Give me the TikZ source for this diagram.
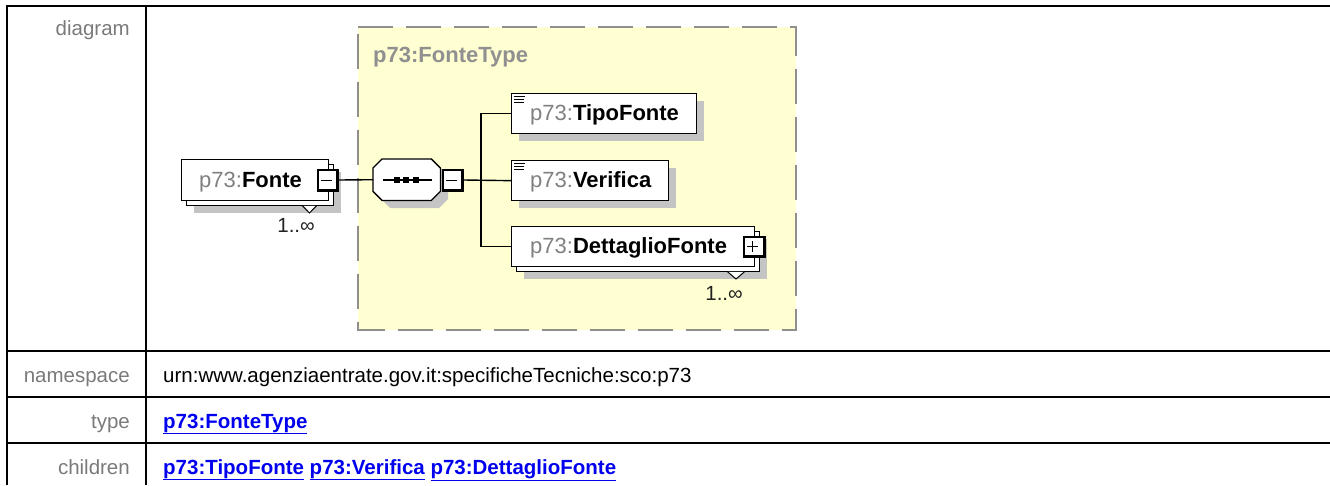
\documentclass[tikz,border=0pt]{standalone}
\usepackage{fontspec}
\setmainfont{Liberation Sans}
\usetikzlibrary{calc}
\definecolor{ybg}{HTML}{FFFFD2}
\definecolor{dashgray}{HTML}{8F8F8F}
\definecolor{shgray}{HTML}{C4C4C4}
\definecolor{lblgray}{HTML}{7A7A7A}
\definecolor{nsgray}{HTML}{808080}
\definecolor{typegray}{HTML}{909090}
\definecolor{linkblue}{HTML}{0000EE}
\definecolor{multc}{HTML}{222222}
\newcommand{\tabfnt}{\fontsize{20.5}{24}\selectfont}
\newcommand{\elfnt}{\fontsize{22}{26}\selectfont}
\newcommand{\pfx}{\textcolor{nsgray}{p73:}}
\begin{document}
\begin{tikzpicture}[x=1pt,y=-1pt,
  tline/.style={line width=2.2pt,black},
  lbl/.style={anchor=base east,text=lblgray,font=\tabfnt,inner sep=0pt},
  val/.style={anchor=base west,font=\tabfnt,inner sep=0pt},
  lnk/.style={anchor=base west,font=\tabfnt\bfseries,text=linkblue,inner sep=0pt},
  elem/.style={draw=black,fill=white,line width=1.3pt,inner sep=0pt,anchor=north west},
  etext/.style={anchor=base west,font=\elfnt,inner sep=0pt},
  conn/.style={line width=1.4pt,black},
  mult/.style={anchor=base east,font=\tabfnt,text=multc,inner sep=0pt},
  shade/.style={fill=shgray,draw=none}]
\useasboundingbox (0,0) rectangle (1330,485);

% ---------- table ----------
\draw[tline] (6,6) -- (1330,6);
\draw[tline] (6,351) -- (1330,351);
\draw[tline] (6,397) -- (1330,397);
\draw[tline] (6,443) -- (1330,443);
\draw[tline] (7,5) -- (7,485);
\draw[tline] (146,5) -- (146,485);

\node[lbl] (ldiag) at (130,35) {diagram};
\node[lbl] (lns) at (130,382) {namespace};
\node[lbl] (ltype) at (130,428) {type};
\node[lbl] (lchild) at (130,474) {children};

\node[val] (vns) at (163,382) {urn:www.agenziaentrate.gov.it:specificheTecniche:sco:p73};
\node[lnk] (vtype) at (163,428) {\underline{p73:FonteType}};
\node[lnk] (vchild) at (163,474) {\underline{p73:TipoFonte} \underline{p73:Verifica} \underline{p73:DettaglioFonte}};

% ---------- complex type box ----------
\fill[ybg] (358,27) rectangle (796,330);
\draw[dashgray,line width=2pt,dash pattern=on 35pt off 13pt] (358,27) -- (796,27) -- (796,330) -- (358,330) -- cycle;
\node[anchor=base west,font=\elfnt\bfseries,text=typegray,inner sep=0pt] (ctype) at (373,62) {p73:FonteType};

% ---------- Fonte element ----------
\fill[shade] (194,172) rectangle (341,213);
\node[elem,minimum width=147,minimum height=41] (fonteback) at (186,164) {};
\node[elem,minimum width=147,minimum height=41] (fonte) at (181,159) {};
\node[etext] (fontet) at (199,187) {\pfx\textbf{Fonte}};
\fill[black] (317,169) rectangle (339,192);
\node[fill=white,draw=none,inner sep=0pt,minimum width=17.5,minimum height=18.5,anchor=north west] (fminus) at (318.3,170.3) {};
\draw[line width=1.2pt] (321,180.5) -- (332,180.5);
\coordinate (fminusE) at (339,180);
\fill[white] (302,205.8) -- (317,205.8) -- (309.5,213) -- cycle;
\draw[line width=1pt] (302,205.3) -- (309.5,213) -- (317,205.3);
\node[mult] (fmult) at (315,232.5) {1..∞};

% ---------- sequence compositor ----------
\fill[shade] (381+9,167) -- (448-9,167) -- (448,167+9) -- (448,208-9) -- (448-9,208) -- (381+9,208) -- (381,208-9) -- (381,167+9) -- cycle;
\node[minimum width=67,minimum height=41,inner sep=0pt,anchor=north west] (seq) at (373,159) {};
\draw[fill=white,line width=1.3pt] ($(seq.north west)+(9,0)$) -- ($(seq.north east)+(-9,0)$) -- ($(seq.north east)+(0,9)$) -- ($(seq.south east)+(0,-9)$) -- ($(seq.south east)+(-9,0)$) -- ($(seq.south west)+(9,0)$) -- ($(seq.south west)+(0,-9)$) -- ($(seq.north west)+(0,9)$) -- cycle;
\draw[line width=1.3pt] (383,180) -- (432,180);
\fill[black] (393.5,177) rectangle (399.5,183);
\fill[black] (403,177) rectangle (409,183);
\fill[black] (412.5,177) rectangle (418.5,183);
\fill[black] (442,169) rectangle (464,192);
\node[fill=white,draw=none,inner sep=0pt,minimum width=17.5,minimum height=18.5,anchor=north west] (sminus) at (443.3,170.3) {};
\draw[line width=1.2pt] (446,180.5) -- (457,180.5);
\coordinate (sminusE) at (464,180);

\draw[conn] (fminusE) -- (seq.west);

% ---------- children ----------
% TipoFonte
\fill[shade] (519,101) rectangle (704,141);
\node[elem,minimum width=185,minimum height=40] (tipo) at (511,93) {};
\draw[line width=1pt] (514,96.5) -- (525,96.5) (514,99.5) -- (524,99.5) (514,102.5) -- (524,102.5);
\node[etext] (tipot) at (530,120.5) {\pfx\textbf{TipoFonte}};
% Verifica
\fill[shade] (519,168) rectangle (676,208);
\node[elem,minimum width=157,minimum height=40] (verif) at (511,160) {};
\draw[line width=1pt] (514,163.5) -- (525,163.5) (514,166.5) -- (524,166.5) (514,169.5) -- (524,169.5);
\node[etext] (verift) at (530,187.5) {\pfx\textbf{Verifica}};
% DettaglioFonte
\fill[shade] (524,239) rectangle (767,279);
\node[elem,minimum width=243,minimum height=40] (dettback) at (516,231) {};
\node[elem,minimum width=243,minimum height=40] (dett) at (511,226) {};
\node[etext] (dettt) at (530,253.5) {\pfx\textbf{DettaglioFonte}};
\fill[black] (743,236) rectangle (766,258);
\node[fill=white,draw=none,inner sep=0pt,minimum width=18.5,minimum height=17.5,anchor=north west] (dplus) at (744.3,237.3) {};
\draw[line width=1.2pt] (747,246.5) -- (758,246.5) (752.5,241) -- (752.5,252);
\fill[white] (727,271.8) -- (745,271.8) -- (736,279) -- cycle;
\draw[line width=1pt] (727,271.3) -- (736,279) -- (745,271.3);
\node[mult] (dmult) at (743,300) {1..∞};

% ---------- connectors ----------
\coordinate (jn) at (481,180);
\draw[conn] (sminusE) -- (verif.west);
\draw[conn] (tipo.west) -| (jn) |- (dett.west);
\end{tikzpicture}
\end{document}
